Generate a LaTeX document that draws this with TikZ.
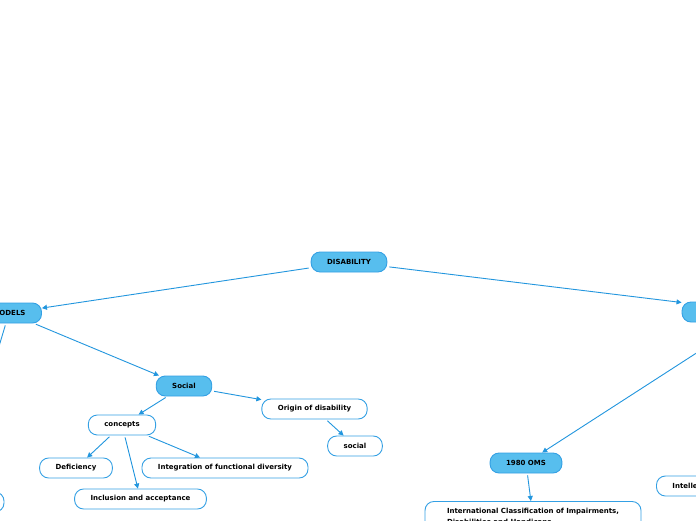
\documentclass[tikz,border=0pt]{standalone}
\usepackage{fontspec}
\setmainfont{DejaVu Sans}
\usetikzlibrary{arrows.meta}
\definecolor{mapfill}{RGB}{87,190,238}
\definecolor{mapline}{RGB}{34,150,222}
\definecolor{mapedge}{RGB}{52,160,228}

\begin{document}
\begin{tikzpicture}[x=1pt, y=-1pt,
  topic/.style={draw=mapedge, line width=0.9pt, fill=mapfill, rounded corners=9pt,
    minimum height=20pt, inner xsep=16pt, inner ysep=0pt,
    font=\fontsize{7}{11}\selectfont\bfseries},
  subtopic/.style={topic, fill=white},
  link/.style={draw=mapline, line width=0.9pt, -{Triangle[width=5pt,length=5pt]}, shorten <=2pt}]
\useasboundingbox (0,0) rectangle (696,520);
\fill[white] (0,0) rectangle (696,520);
\clip (0,0) rectangle (696,520);

% main topics
\node[topic] (disability) at (349,262) {DISABILITY};
\node[topic] (models) at (9,313) {MODELS};
\node[topic, minimum width=156pt] (types) at (760,312) {};
\node[topic] (social) at (184,386) {Social};
\node[topic] (oms) at (526,463) {1980 OMS};
\coordinate (medical) at (-12,383);

% sub topics
\node[subtopic] (origin) at (314.5,409) {Origin of disability};
\node[subtopic] (socialorigin) at (355,446) {social};
\node[subtopic] (concepts) at (122,425) {concepts};
\node[subtopic] (deficiency) at (76,468) {Deficiency};
\node[subtopic] (integration) at (225,468) {Integration of functional diversity};
\node[subtopic] (inclusion) at (140.5,499) {Inclusion and acceptance};
\node[subtopic, anchor=north, minimum width=216pt, align=left, inner ysep=7pt] (icidh) at (533,501)
  {International Classification of Impairments,\\ Disabilities and Handicaps};
\node[subtopic, anchor=west] (intellectual) at (656,486) {Intellectual};
\node[subtopic, minimum width=88pt] (leftnode) at (-40,502) {};

% links
\draw[link] (disability) -- (models);
\draw[link] (disability) -- (types);
\draw[link] (models) -- (social);
\draw[link] (models) -- (medical);
\draw[link] (types) -- (oms);
\draw[link] (social) -- (concepts);
\draw[link] (social) -- (origin);
\draw[link] (origin) -- (socialorigin);
\draw[link] (concepts) -- (deficiency);
\draw[link] (concepts) -- (inclusion);
\draw[link] (concepts) -- (integration);
\draw[link] (oms) -- (icidh);
\end{tikzpicture}
\end{document}
